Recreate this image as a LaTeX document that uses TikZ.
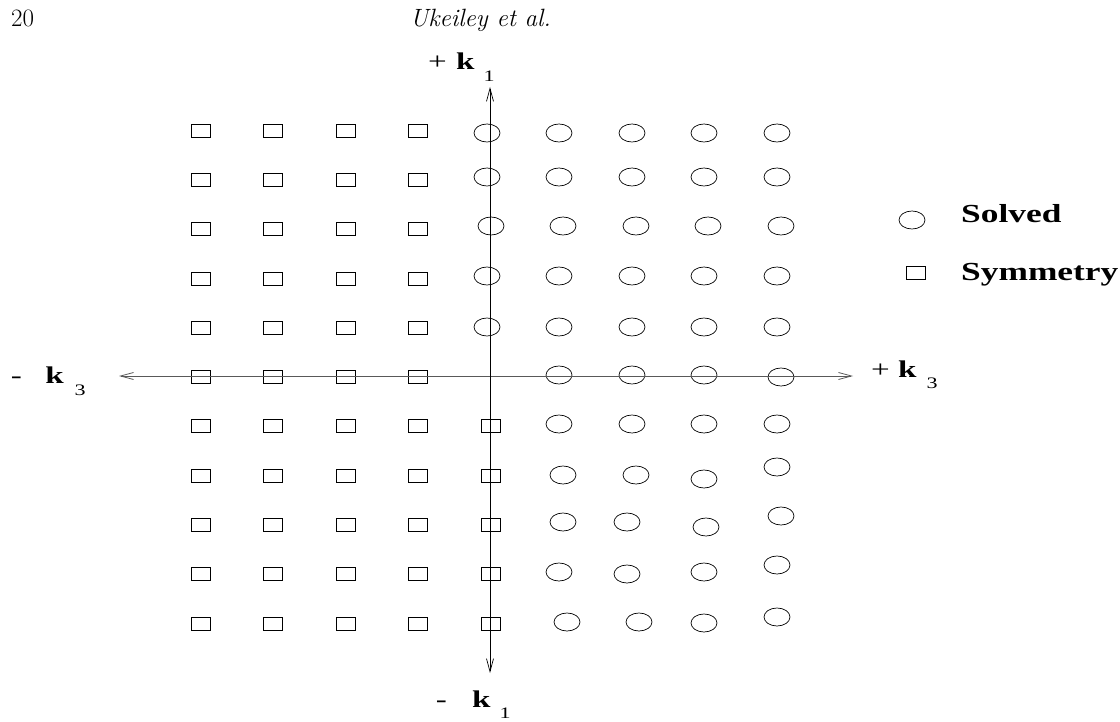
\documentclass[tikz,border=0pt]{standalone}
\usepackage{graphicx}
\usepackage{fontspec}
\newfontfamily\tnr{Liberation Serif}
\usetikzlibrary{arrows.meta,shapes.geometric}
\begin{document}
\begin{tikzpicture}[x=1pt,y=-1pt,
  sol/.style={ellipse,draw,line width=0.7pt,minimum width=26pt,minimum height=18pt,inner sep=0pt},
  sym/.style={rectangle,draw,line width=0.7pt,minimum width=19pt,minimum height=13pt,inner sep=0pt},
  barb/.style={{Straight Barb[length=13pt,width=7pt]}-{Straight Barb[length=13pt,width=7pt]}},
  haxis/.style={barb,line width=0.8pt,draw=black!65},
  vaxis/.style={barb,line width=0.7pt,draw=black},
  lab/.style={anchor=base west,inner sep=0pt,font=\tnr\fontsize{24}{28}\selectfont},
  leg/.style={anchor=base west,inner sep=0pt,font=\tnr\bfseries\fontsize{26}{30}\selectfont},
  head/.style={anchor=base west,inner sep=0pt,font=\fontsize{25}{30}\selectfont}]
\newcommand{\subsz}{\fontsize{16}{16}\selectfont}
\useasboundingbox (0,0) rectangle (1120,722);

% header
\node[head] (page) at (11,27) {20};
\node[head,font=\itshape\fontsize{25}{30}\selectfont] (auth) at (410,27) {Ukeiley et al.};

% squares (symmetry)
\foreach \r in {0,...,10}{
  \foreach \c/\x in {1/200.5,2/272.5,3/345.5,4/418}{
    \node[sym] (s\r-\c) at (\x,{130.5+49.3*\r}) {};
  }
}
\foreach \r in {6,...,10}{
  \node[sym] (s\r-5) at (491,{130.5+49.3*\r}) {};
}

% circles (solved)
\foreach \r/\y in {0/133,1/177,3/276,4/327}{
  \foreach \c/\x in {5/487,6/559,7/632,8/704,9/777}{
    \node[sol] (c\r-\c) at (\x,\y) {};
  }
}
\foreach \c/\x in {5/491,6/563,7/636,8/708,9/781}{
  \node[sol] (c2-\c) at (\x,226) {};
}
\node[sol] (c5-6) at (559,375) {};
\node[sol] (c5-7) at (632,375) {};
\node[sol] (c5-8) at (704,375) {};
\node[sol] (c5-9) at (781,377) {};
\foreach \c/\x in {6/559,7/632,8/704,9/777}{
  \node[sol] (c6-\c) at (\x,424) {};
}
\node[sol] (c7-6) at (563,475) {};
\node[sol] (c7-7) at (636,475) {};
\node[sol] (c7-8) at (704,479) {};
\node[sol] (c7-9) at (777,467) {};
\node[sol] (c8-6) at (563,522) {};
\node[sol] (c8-7) at (627,522) {};
\node[sol] (c8-8) at (706,527) {};
\node[sol] (c8-9) at (781,516) {};
\node[sol] (c9-6) at (559,572) {};
\node[sol] (c9-7) at (627,574) {};
\node[sol] (c9-8) at (704,572) {};
\node[sol] (c9-9) at (777,565) {};
\node[sol] (c10-6) at (567,622) {};
\node[sol] (c10-7) at (639,622) {};
\node[sol] (c10-8) at (704,623) {};
\node[sol] (c10-9) at (777,617) {};

% axes
\coordinate (kl) at (119,376);
\coordinate (kr) at (853,376);
\coordinate (kt) at (490,87);
\coordinate (kb) at (490,673);
\draw[haxis] (kl) -- (kr);
\draw[vaxis] (kb) -- (kt);

% axis labels
\node[lab] (lk1p) at (428,70) {\scalebox{1.38}[1]{+\hspace{6.7pt}\textbf{k}\hspace{6.5pt}\raisebox{-12pt}{\subsz 1}}};
\node[lab] (lk3m) at (10.7,383) {\scalebox{1.38}[1]{-\hspace{16.9pt}\textbf{k}\hspace{7.9pt}\raisebox{-12pt}{\subsz 3}}};
\node[lab] (lk3p) at (871,377) {\scalebox{1.38}[1]{+\hspace{6pt}\textbf{k}\hspace{7.2pt}\raisebox{-12pt}{\subsz 3}}};
\node[lab] (lk1m) at (435.7,707) {\scalebox{1.38}[1]{-\hspace{18.3pt}\textbf{k}\hspace{6.6pt}\raisebox{-11pt}{\subsz 1}}};

% legend
\node[sol] (legc) at (912,220) {};
\node[sym] (legs) at (916,273) {};
\node[leg] (legct) at (961,223) {\scalebox{1.36}[1]{Solved}};
\node[leg] (legst) at (961,280) {\scalebox{1.36}[1]{Symmetry}};
\end{tikzpicture}
\end{document}
